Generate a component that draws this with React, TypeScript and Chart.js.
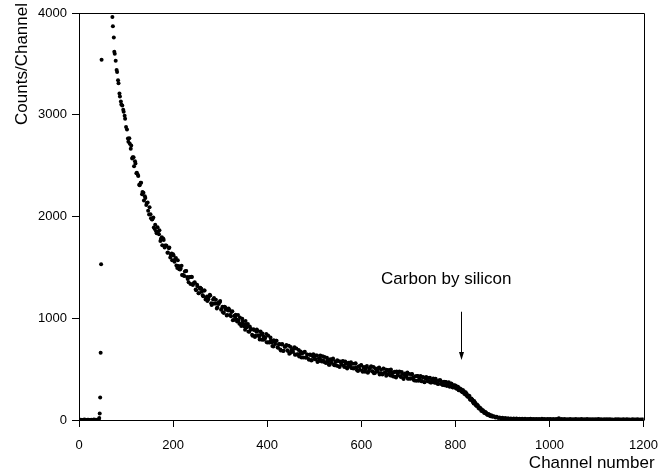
import React, { useEffect, useRef } from "react";
import { Chart, registerables } from "chart.js";

Chart.register(...registerables);

// ---- data ----
const zeroStartChannel = 0;
const zeroStep = 2;
const zeroCounts = [2, 0, 3, 1, 0, 2, 4, 1, 0, 3, 2, 0, 1, 3, 0, 2, 5, 1, 3, 0, 2, 4];

const spikeChannels = [43, 44, 45, 46, 47, 48];
const spikeCounts = [20, 65, 220, 660, 1530, 3540];

const topChannels = [71, 72, 74, 75, 76, 78, 80, 81, 83, 84, 86, 87, 89, 90, 92, 94, 95, 97, 98, 100];
const topCounts = [3960, 3870, 3760, 3620, 3600, 3530, 3440, 3420, 3340, 3310, 3210, 3180, 3130, 3100, 3090, 3050, 3030, 2990, 2960, 2880];

const decayStartChannel = 102;
const decayStep = 3;
const decayCounts = [
  2856, 2735, 2715, 2697, 2583, 2494, 2520, 2431, 2399, 2306,
  2332, 2240, 2157, 2183, 2132, 2057, 2090, 1984, 1973, 1892,
  1920, 1835, 1851, 1866, 1779, 1717, 1770, 1714, 1713, 1647,
  1696, 1625, 1569, 1617, 1578, 1519, 1570, 1482, 1489, 1426,
  1420, 1460, 1465, 1386, 1404, 1337, 1405, 1342, 1354, 1276,
  1315, 1245, 1300, 1260, 1217, 1273, 1200, 1169, 1214, 1223,
  1129, 1185, 1146, 1182, 1108, 1139, 1170, 1090, 1059, 1114,
  1083, 1033, 1097, 1032, 1061, 981, 1025, 1035, 969, 979,
  1008, 923, 967, 921, 974, 912, 870, 920, 889, 829,
  885, 828, 890, 833, 790, 843, 850, 788, 810, 763,
  830, 762, 785, 727, 785, 747, 780, 709, 748, 682,
  746, 680, 719, 738, 678, 652, 717, 677, 697, 642,
  702, 647, 623, 673, 654, 614, 670, 616, 642, 592,
  638, 589, 645, 601, 633, 569, 606, 633, 574, 586,
  618, 560, 592, 544, 596, 563, 605, 537, 569, 586,
  528, 575, 542, 579, 521, 558, 505, 562, 539, 511,
  553, 510, 557, 489, 526, 493, 540, 473, 520, 498,
  531, 474, 501, 529, 477, 460, 507, 480, 508, 446,
  493, 446, 504, 462, 494, 447, 470, 497, 434, 467,
  424, 476, 439, 476, 423, 451, 403, 456, 438, 406,
  453, 410, 453, 395, 427, 385, 432, 404, 432, 384,
  417, 374, 422, 384, 412, 369, 392, 409, 366, 389,
  356, 388, 390, 352, 374, 341, 373, 344, 370, 331,
  356, 320, 339, 312, 330, 293, 310, 280, 294, 258,
  272, 234, 241, 202, 212, 177, 187, 147, 152, 117,
  124, 92, 98, 71, 78, 55, 60, 41, 47, 31,
  37, 25, 31, 20, 25, 16, 22, 14, 20, 12,
  17, 11, 15, 10, 14, 9, 14, 10, 13, 9,
  12, 8, 13, 7, 11, 9, 12, 7, 10, 8,
  11, 7, 10, 6, 12, 8, 10, 6, 9, 7,
  10, 6, 9, 5, 11, 7, 18, 6, 9, 5,
  9, 6, 8, 5, 10, 6, 8, 4, 9, 6,
  8, 5, 9, 4, 7, 6, 9, 5, 8, 4,
  7, 5, 8, 4, 9, 5, 7, 3, 8, 5,
  7, 4, 8, 5, 6, 3, 8, 4, 7, 5,
  6, 4, 7, 3, 8, 5, 6, 3, 7, 4,
  6, 4, 7, 3, 6, 5, 4,
];

// interleaved channels (104, 107, ...) of the same spectrum
const interleavedStartChannel = 104;
const interleavedStep = 3;
const interleavedCounts = [
  2767, 2770, 2665, 2571, 2582, 2543, 2424, 2410, 2312, 2331,
  2219, 2233, 2200, 2114, 2138, 2019, 2021, 1970, 1989, 1878,
  1855, 1894, 1825, 1758, 1796, 1784, 1696, 1715, 1644, 1688,
  1597, 1636, 1630, 1556, 1592, 1493, 1513, 1480, 1517, 1425,
  1415, 1465, 1405, 1353, 1406, 1409, 1328, 1350, 1282, 1330,
  1245, 1290, 1290, 1226, 1273, 1185, 1213, 1187, 1232, 1147,
  1143, 1199, 1145, 1096, 1152, 1158, 1083, 1113, 1052, 1107,
  1026, 1076, 1080, 1020, 1069, 984, 1013, 988, 1032, 947,
  941, 996, 940, 888, 941, 944, 868, 898, 837, 892,
  815, 868, 875, 818, 870, 788, 820, 798, 845, 762,
  765, 812, 765, 722, 770, 778, 716, 745, 694, 743,
  677, 721, 730, 685, 729, 659, 689, 669, 714, 644,
  644, 689, 650, 615, 661, 666, 612, 643, 599, 644,
  585, 626, 637, 594, 635, 577, 604, 585, 627, 569,
  566, 613, 575, 542, 589, 596, 543, 575, 532, 579,
  521, 563, 575, 532, 574, 516, 543, 525, 567, 509,
  506, 553, 515, 482, 529, 536, 484, 516, 474, 522,
  465, 507, 520, 478, 521, 463, 491, 474, 517, 459,
  457, 505, 468, 435, 483, 491, 438, 470, 428, 475,
  417, 460, 472, 429, 472, 414, 442, 424, 467, 409,
  406, 449, 416, 388, 431, 433, 385, 418, 380, 423,
  370, 408, 415, 378, 415, 368, 390, 372, 405, 362,
  354, 391, 363, 345, 377, 374, 335, 361, 327, 358,
  322, 341, 340, 307, 325, 293, 303, 273, 282, 251,
  258, 225, 237, 197, 202, 162, 172, 137, 142, 110,
  114, 86, 88, 67, 70, 50, 53, 38, 41,
];

const xTickValues = [0, 200, 400, 600, 800, 1000, 1200];
const yTickValues = [0, 1000, 2000, 3000, 4000];

const xTitle = "Channel number";
const yTitle = "Counts/Channel";
const annotationText = "Carbon by silicon";
const annotationTextAt = { channel: 642, counts: 1340 };
const annotationArrow = { channel: 811, fromCounts: 1064, toCounts: 590 };

const FONT = '"Liberation Sans", Arial, Helvetica, sans-serif';

function buildPoints() {
  const pts: { x: number; y: number }[] = [];
  zeroCounts.forEach((c, i) => pts.push({ x: zeroStartChannel + i * zeroStep, y: c }));
  spikeCounts.forEach((c, i) => pts.push({ x: spikeChannels[i], y: c }));
  topCounts.forEach((c, i) => pts.push({ x: topChannels[i], y: c }));
  decayCounts.forEach((c, i) => pts.push({ x: decayStartChannel + i * decayStep, y: c }));
  interleavedCounts.forEach((c, i) =>
    pts.push({ x: interleavedStartChannel + i * interleavedStep, y: c })
  );
  return pts;
}

const framePlugin = {
  id: "frameAndLabels",
  afterDraw(chart: any) {
    const { ctx, chartArea, scales } = chart;
    const xs = scales.x;
    const ys = scales.y;
    ctx.save();
    ctx.strokeStyle = "#000";
    ctx.lineWidth = 1;
    ctx.beginPath();
    ctx.moveTo(Math.round(chartArea.left) + 0.5, Math.round(chartArea.top) + 0.5);
    ctx.lineTo(Math.round(chartArea.right) + 0.5, Math.round(chartArea.top) + 0.5);
    ctx.lineTo(Math.round(chartArea.right) + 0.5, Math.round(chartArea.bottom) + 0.5);
    ctx.stroke();

    ctx.fillStyle = "#000";
    ctx.font = `17px ${FONT}`;
    ctx.textAlign = "left";
    ctx.textBaseline = "alphabetic";
    ctx.fillText(
      annotationText,
      xs.getPixelForValue(annotationTextAt.channel),
      ys.getPixelForValue(annotationTextAt.counts)
    );

    const ax = Math.round(xs.getPixelForValue(annotationArrow.channel)) + 0.5;
    const ay1 = ys.getPixelForValue(annotationArrow.fromCounts);
    const ay2 = ys.getPixelForValue(annotationArrow.toCounts);
    ctx.beginPath();
    ctx.moveTo(ax, ay1);
    ctx.lineTo(ax, ay2 - 4);
    ctx.stroke();
    ctx.beginPath();
    ctx.moveTo(ax, ay2);
    ctx.lineTo(ax - 2.5, ay2 - 8);
    ctx.lineTo(ax + 2.5, ay2 - 8);
    ctx.closePath();
    ctx.fill();

    ctx.font = `17px ${FONT}`;
    ctx.textAlign = "right";
    ctx.textBaseline = "alphabetic";
    ctx.fillText(xTitle, chartArea.right + 11, chartArea.bottom + 48);

    ctx.translate(26.5, chartArea.top - 10);
    ctx.rotate(-Math.PI / 2);
    ctx.textAlign = "right";
    ctx.fillText(yTitle, 0, 0);
    ctx.restore();
  },
};

export default function App() {
  const canvasRef = useRef<HTMLCanvasElement | null>(null);

  useEffect(() => {
    const canvas = canvasRef.current;
    if (!canvas) return;
    const chart = new Chart(canvas, {
      type: "scatter",
      data: {
        datasets: [
          {
            data: buildPoints(),
            backgroundColor: "#000",
            borderColor: "#000",
            borderWidth: 0,
            pointRadius: 2,
            pointHoverRadius: 2,
          },
        ],
      },
      options: {
        responsive: false,
        animation: false,
        events: [],
        layout: { padding: { top: 13, right: 24, left: 0, bottom: 0 } },
        plugins: {
          legend: { display: false },
          tooltip: { enabled: false },
          title: { display: false },
        },
        scales: {
          x: {
            type: "linear",
            min: 0,
            max: 1200,
            afterFit: (s: any) => {
              s.height = 53;
            },
            afterBuildTicks: (s: any) => {
              s.ticks = xTickValues.map((v) => ({ value: v }));
            },
            ticks: {
              color: "#000",
              font: { family: FONT, size: 13 },
              padding: 11,
              maxRotation: 0,
              autoSkip: false,
              callback: (v: any) => String(v),
            },
            grid: {
              drawOnChartArea: false,
              drawTicks: true,
              tickLength: 7,
              tickColor: "#000",
              tickWidth: 1,
            },
            border: { display: true, color: "#000", width: 1 },
          },
          y: {
            type: "linear",
            min: 0,
            max: 4000,
            afterFit: (s: any) => {
              s.width = 79;
            },
            afterBuildTicks: (s: any) => {
              s.ticks = yTickValues.map((v) => ({ value: v }));
            },
            ticks: {
              color: "#000",
              font: { family: FONT, size: 13 },
              padding: 5,
              autoSkip: false,
              callback: (v: any) => String(v),
            },
            grid: {
              drawOnChartArea: false,
              drawTicks: true,
              tickLength: 7,
              tickColor: "#000",
              tickWidth: 1,
            },
            border: { display: true, color: "#000", width: 1 },
          },
        },
      },
      plugins: [framePlugin],
    });
    return () => chart.destroy();
  }, []);

  return (
    <div style={{ position: "fixed", left: 0, top: 0, width: 669, height: 473, background: "#fff" }}>
      <canvas ref={canvasRef} width={669} height={473} style={{ display: "block" }} />
    </div>
  );
}
